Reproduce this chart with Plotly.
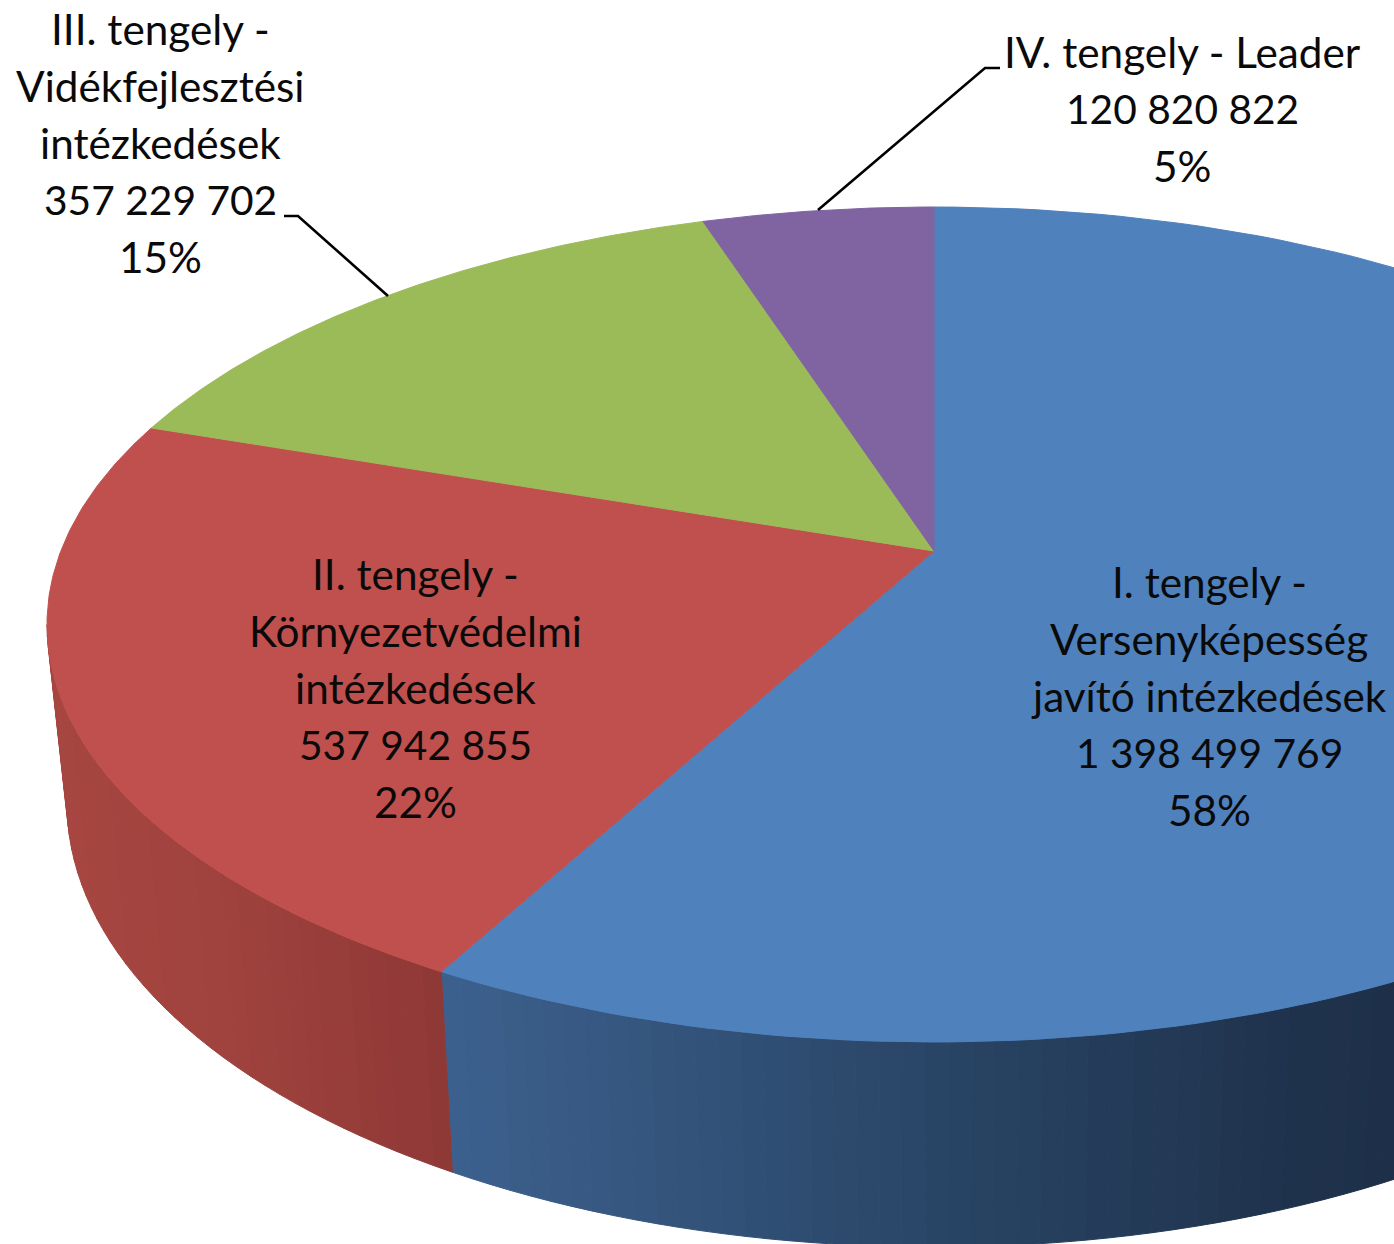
import numpy as np
import plotly.graph_objects as go

# ---- data ----
categories = ["I. tengely", "II. tengely", "III. tengely", "IV. tengely"]
values = [1398499769, 537942855, 357229702, 120820822]
name_lines = [
    ["I. tengely -", "Versenyképesség", "javító intézkedések"],
    ["II. tengely -", "Környezetvédelmi", "intézkedések"],
    ["III. tengely -", "Vidékfejlesztési", "intézkedések"],
    ["IV. tengely - Leader"],
]
colors = ["#4F81BD", "#C0504D", "#9BBB59", "#8064A2"]

# ---- projection of the tilted pie (pixel space of the axes) ----
W, H = 1394, 1244
APEX = (934.0, 551.0)
TOP = dict(cx=934.0, cy=624.5, rx=887.0, ry=417.5)
BOT = dict(cx=934.0, cy=803.0, rx=867.0, ry=444.0)
KX = 2.156

def phi_of_theta(theta):
    """True pie angle (clockwise from north) -> parameter on the top ellipse."""
    dx, dy = KX * np.sin(theta), -np.cos(theta)
    oy = APEX[1] - TOP["cy"]
    a = (dx / TOP["rx"]) ** 2 + (dy / TOP["ry"]) ** 2
    b = 2 * oy * dy / TOP["ry"] ** 2
    c = (oy / TOP["ry"]) ** 2 - 1
    t = (-b + np.sqrt(b * b - 4 * a * c)) / (2 * a)
    x, y = t * dx, oy + t * dy
    return np.arctan2(x / TOP["rx"], -y / TOP["ry"]) % (2 * np.pi)

def ell(e, phi):
    return e["cx"] + e["rx"] * np.sin(phi), e["cy"] - e["ry"] * np.cos(phi)

def lerp_color(x, xs, cols):
    rgb = [np.interp(x, xs, [c[i] for c in cols]) for i in range(3)]
    return "rgb(%d,%d,%d)" % tuple(int(round(v)) for v in rgb)

total = sum(values)
edges = np.concatenate([[0], np.cumsum(values) / total * 2 * np.pi])
edges[-1] = 2 * np.pi - 1e-9
phis = [phi_of_theta(t) for t in edges]
phis[0] = 0.0
phis[-1] = 2 * np.pi

fig = go.Figure()

def poly(xs, ys, color):
    fig.add_trace(go.Scatter(x=xs, y=ys, mode="lines", fill="toself", fillcolor=color,
                             line=dict(color=color, width=1), hoverinfo="skip", showlegend=False))

# ---- side walls, shaded in thin strips ----
blue_x = [455, 934, 1300, 1394]
blue_c = [(60, 96, 141), (41, 69, 102), (31, 50, 76), (30, 48, 73)]
red_x = [50, 250, 445]
red_c = [(167, 70, 65), (158, 65, 61), (142, 56, 54)]

def wall(p0, p1, xs, cols):
    n = max(2, int(abs(p1 - p0) / np.radians(1.5)))
    g = np.linspace(p0, p1, n + 1)
    for a, b in zip(g[:-1], g[1:]):
        tx0, ty0 = ell(TOP, a); tx1, ty1 = ell(TOP, b)
        bx0, by0 = ell(BOT, a); bx1, by1 = ell(BOT, b)
        poly([tx0, tx1, bx1, bx0, tx0], [ty0, ty1, by1, by0, ty0],
             lerp_color((tx0 + tx1) / 2, xs, cols))

wall(np.pi / 2, phis[1], blue_x, blue_c)
wall(phis[1], 1.5 * np.pi, red_x, red_c)

# ---- top faces ----
for i, c in enumerate(colors):
    g = np.linspace(phis[i], phis[i + 1], 160)
    ax, ay = ell(TOP, g)
    poly(np.r_[APEX[0], ax, APEX[0]], np.r_[APEX[1], ay, APEX[1]], c)

# ---- leader lines ----
for lx, ly in [([1000, 985, 818], [68, 68, 210]), ([284, 298, 388], [216, 216, 296])]:
    fig.add_trace(go.Scatter(x=lx, y=ly, mode="lines", line=dict(color="#000000", width=2.6),
                             hoverinfo="skip", showlegend=False))

# ---- labels ----
label_pos = [(1209, 581), (415, 573), (160, 28), (1182, 51)]
LINE_H = 57.2
FONT = dict(family="Lato", size=42.3, color="#0a0a0a")
FONT_NUM = dict(family="Lato", size=40.7, color="#0a0a0a")

def fmt(v):
    return f"{v:,}".replace(",", " ")

ann = []
for lines, v, (px, py) in zip(name_lines, values, label_pos):
    full = [(t, FONT) for t in lines] + [(fmt(v), FONT_NUM), (f"{round(v / total * 100)}%", FONT)]
    for k, (t, f) in enumerate(full):
        ann.append(dict(x=px, y=py + k * LINE_H, text=t, showarrow=False, xref="x", yref="y",
                        xanchor="center", yanchor="middle", font=f))

fig.update_layout(
    width=W, height=H, margin=dict(l=0, r=0, t=0, b=0),
    paper_bgcolor="white", plot_bgcolor="white", annotations=ann,
    xaxis=dict(range=[0, W], visible=False, fixedrange=True),
    yaxis=dict(range=[H, 0], visible=False, fixedrange=True),
)
fig.write_html("out.html", config=dict(displayModeBar=False),
               post_script="document.body.style.margin='0';document.body.style.overflow='hidden';")
